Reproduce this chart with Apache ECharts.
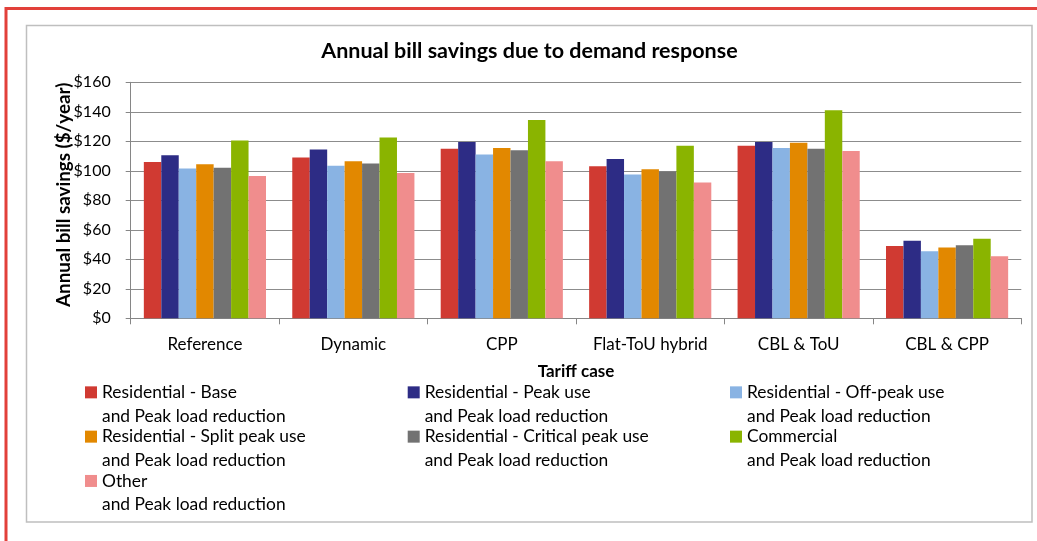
<!DOCTYPE html>
<html>
<head>
<meta charset="utf-8">
<script src="https://cdn.jsdelivr.net/npm/echarts@6/dist/echarts.min.js"></script>
<style>
  html, body { margin: 0; padding: 0; background: #fff; }
  #chart { width: 1037px; height: 541px; }
</style>
</head>
<body>
<div id="chart"></div>
<script>
// Tariff cases on the x axis
const categories = ['Reference', 'Dynamic', 'CPP', 'Flat-ToU hybrid', 'CBL & ToU', 'CBL & CPP'];

// Annual bill savings ($/year) per customer class
const resBase     = [106, 109, 115, 103, 117, 49];
const resPeak     = [110.5, 114.5, 119.5, 108, 119.5, 52.5];
const resOffPeak  = [101.5, 103.5, 111, 97.5, 115.5, 45.5];
const resSplit    = [104.5, 106.5, 115.5, 101, 119, 48];
const resCritical = [102, 105, 114, 99.5, 115, 49.5];
const commercial  = [120.5, 122.5, 134.5, 117, 141, 54];
const other       = [96.5, 98.5, 106.5, 92, 113.5, 42];

const seriesNames = [
  'Residential - Base',
  'Residential - Peak use',
  'Residential - Off-peak use',
  'Residential - Split peak use',
  'Residential - Critical peak use',
  'Commercial',
  'Other'
];
const seriesValues = [resBase, resPeak, resOffPeak, resSplit, resCritical, commercial, other];
const seriesColors = ['#D03A32', '#2D2C85', '#89B3E3', '#E28800', '#727272', '#8AB400', '#F08D8D'];
const legendSuffix = 'and Peak load reduction';

const FONT = 'Lato';
const LINE = 23.7;           // legend line height
const ITEM_H = LINE * 2;     // a legend entry spans two text lines
const ROW_STEP = 44.3;       // distance between legend entries

// Square swatch sitting beside the first text line; the two bare move-to
// points stretch the symbol's box to the full entry height.
const swatch = 'path://M0,0M0,' + ITEM_H +
  'M0,' + (LINE / 2 - 6) + 'H12V' + (LINE / 2 + 6) + 'H0Z';

function legendColumn(left, names) {
  return {
    orient: 'vertical',
    left: left,
    top: 380.5,
    padding: 0,
    itemWidth: 12,
    itemHeight: ITEM_H,
    itemGap: ROW_STEP - ITEM_H,
    icon: swatch,
    selectedMode: false,
    data: names,
    formatter: name => name + '\n' + legendSuffix,
    textStyle: {
      fontFamily: FONT,
      fontSize: 17.4,
      color: '#000',
      lineHeight: LINE
    }
  };
}

const chart = echarts.init(document.getElementById('chart'), null, { renderer: 'canvas' });

chart.setOption({
  animation: false,
  backgroundColor: '#fff',
  graphic: [
    {
      type: 'rect', z: -10, silent: true,
      shape: { x: 6, y: 8.5, width: 1200, height: 700 },
      style: { fill: 'none', stroke: '#E2403A', lineWidth: 3 }
    },
    {
      type: 'rect', z: -10, silent: true,
      shape: { x: 26.5, y: 25.5, width: 1005.5, height: 496.5 },
      style: { fill: 'none', stroke: '#BFBFBF', lineWidth: 1.5 }
    }
  ],
  title: {
    text: 'Annual bill savings due to demand response',
    left: 529.5,
    top: 40,
    padding: 0,
    textAlign: 'center',
    textStyle: { fontFamily: FONT, fontSize: 21.5, fontWeight: 'bold', color: '#000' }
  },
  legend: [
    legendColumn(85, [seriesNames[0], seriesNames[3], seriesNames[6]]),
    legendColumn(407.7, [seriesNames[1], seriesNames[4]]),
    legendColumn(730, [seriesNames[2], seriesNames[5]])
  ],
  grid: { left: 130.7, right: 15.7, top: 82.3, bottom: 222.7, containLabel: false },
  xAxis: {
    type: 'category',
    data: categories,
    name: 'Tariff case',
    nameLocation: 'middle',
    nameGap: 45,
    nameMoveOverlap: false,
    nameTextStyle: { fontFamily: FONT, fontSize: 17, fontWeight: 'bold', color: '#000' },
    axisLine: { lineStyle: { color: '#868686', width: 1 } },
    axisTick: { show: true, alignWithLabel: false, interval: 0, length: 6, lineStyle: { color: '#868686' } },
    axisLabel: { fontFamily: FONT, fontSize: 17, color: '#000', margin: 18, interval: 0 }
  },
  yAxis: {
    type: 'value',
    min: 0,
    max: 160,
    interval: 20,
    name: 'Annual bill savings ($/year)',
    nameLocation: 'middle',
    nameGap: 57,
    nameMoveOverlap: false,
    nameTextStyle: { fontFamily: FONT, fontSize: 18.8, fontWeight: 'bold', color: '#000', padding: [0, 0, 0, 11] },
    axisLine: { show: true, lineStyle: { color: '#868686', width: 1 } },
    axisTick: { show: true, length: 5, lineStyle: { color: '#868686' } },
    axisLabel: { fontFamily: FONT, fontSize: 16, color: '#000', margin: 20, formatter: v => '$' + v },
    splitLine: { lineStyle: { color: '#8C8C8C', width: 1 } }
  },
  series: seriesNames.map((name, i) => ({
    name: name,
    type: 'bar',
    data: seriesValues[i],
    barGap: '0%',
    barCategoryGap: '17.7%',
    itemStyle: { color: seriesColors[i] }
  }))
});
</script>
</body>
</html>
